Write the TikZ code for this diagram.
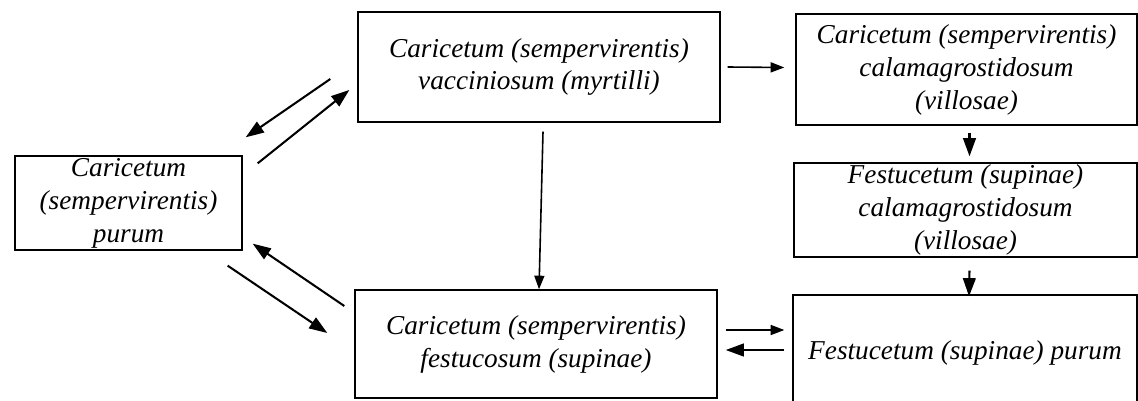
\documentclass[tikz,border=0pt]{standalone}
\usepackage{fontspec}
\setmainfont{Liberation Serif}
\usetikzlibrary{positioning, arrows.meta, calc}

\begin{document}
\begin{tikzpicture}[
    x=0.44pt, y=-0.44pt,
    box/.style={rectangle, draw=black, line width=0.6pt, inner sep=0pt,
                font=\fontsize{12pt}{14.5pt}\selectfont\itshape, align=center},
    arr/.style={-{Triangle[length=8pt, width=5.6pt]}, line width=0.9pt},
    sarr/.style={-{Triangle[length=6pt, width=4.4pt]}, line width=0.7pt}
]
\clip (0,0) rectangle (1138,401);

\node[box, minimum width=227*0.44pt, minimum height=94*0.44pt] (purum) at (128.5,203)
    {Caricetum\\(sempervirentis)\\purum};

\node[box, minimum width=362*0.44pt, minimum height=110*0.44pt] (vacc) at (539,67)
    {Caricetum (sempervirentis)\\vacciniosum (myrtilli)};

\node[box, minimum width=362*0.44pt, minimum height=108*0.44pt] (festuc) at (536,344)
    {Caricetum (sempervirentis)\\festucosum (supinae)};

\node[box, minimum width=341*0.44pt, minimum height=111*0.44pt] (calam) at (966.5,69.5)
    {Caricetum (sempervirentis)\\calamagrostidosum\\(villosae)};

\node[box, minimum width=343*0.44pt, minimum height=94*0.44pt] (festcal) at (965.5,210)
    {Festucetum (supinae)\\calamagrostidosum\\(villosae)};

\node[box, minimum width=344*0.44pt, minimum height=116*0.44pt] (festpur) at (965,353)
    {Festucetum (supinae) purum};

% left pair of arrows, upper
\draw[arr] ($(vacc.west)+(-27,12)$) -- ($(purum.north east)+(3,-18)$);
\draw[arr] ($(purum.north east)+(15,8)$) -- ($(vacc.west)+(-8,23)$);

% left pair of arrows, lower
\draw[arr] ($(festuc.west)+(-10,-38)$) -- ($(purum.south east)+(10,-7)$);
\draw[arr] ($(purum.south east)+(-15,15)$) -- ($(festuc.west)+(-27,-11)$);

\draw[sarr] ($(vacc.south)+(4,9)$) -- ($(festuc.north)+(3,0)$);
\draw[sarr] ($(vacc.east)+(7,0)$) -- ($(calam.west)+(-11,-2)$);
\draw[arr] ($(calam.south)+(3,7)$) -- ($(festcal.north)+(4,-6)$);
\draw[arr] ($(festcal.south)+(4,13)$) -- ($(festpur.north)+(4,2)$);

% right pair of arrows
\draw[sarr] ($(festuc.east)+(8,-14)$) -- ($(festpur.west)+(-8,-23)$);
\draw[arr] ($(festpur.west)+(-8,-3)$) -- ($(festuc.east)+(8,6)$);

\end{tikzpicture}
\end{document}
